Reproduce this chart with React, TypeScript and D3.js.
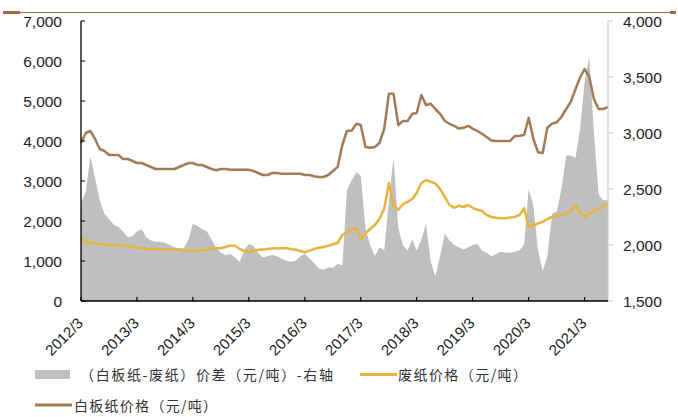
import React from 'react';
import * as d3 from 'd3';

// monthly observations, 2012/3 .. 2021/8
const months: Date[] = d3.timeMonth.range(new Date(2012, 2, 1), new Date(2021, 8, 1));

const tickLabels = ['2012/3', '2013/3', '2014/3', '2015/3', '2016/3', '2017/3', '2018/3', '2019/3', '2020/3', '2021/3'];
const leftTicks = [0, 1000, 2000, 3000, 4000, 5000, 6000, 7000];
const rightTicks = [1500, 2000, 2500, 3000, 3500, 4000];

// (白板纸-废纸)价差 (right axis)
const spread = [
  2380, 2470, 2790, 2600, 2400, 2280, 2230, 2180, 2160, 2120,
  2070, 2080, 2120, 2140, 2070, 2040, 2030, 2030, 2020, 2000,
  1980, 1970, 1970, 2050, 2190, 2170, 2140, 2120, 2050, 1970,
  1930, 1910, 1920, 1890, 1850, 1960, 2010, 1990, 1930, 1890,
  1900, 1910, 1900, 1880, 1860, 1850, 1860, 1900, 1920, 1880,
  1840, 1790, 1780, 1800, 1800, 1830, 1820, 2490, 2580, 2650,
  2620, 2150, 2000, 1900, 1980, 1950, 2400, 2780, 2150, 2000,
  1950, 2050, 1950, 2050, 2190, 1850, 1720, 1900, 2100, 2040,
  2000, 1980, 1960, 1980, 2000, 2010, 1950, 1930, 1900, 1920,
  1940, 1930, 1930, 1940, 1950, 2010, 2500, 2350, 1950, 1770,
  1900, 2280, 2300, 2500, 2800, 2800, 2780, 3050, 3450, 3680,
  3000, 2450, 2400, 2400,
];

// 废纸价格 (left axis)
const wastePaper = [
  1600, 1450, 1470, 1450, 1420, 1420, 1400, 1400, 1390, 1390,
  1380, 1360, 1340, 1320, 1300, 1300, 1290, 1290, 1290, 1300,
  1290, 1280, 1270, 1260, 1250, 1260, 1270, 1280, 1300, 1320,
  1320, 1350, 1390, 1380, 1300, 1250, 1230, 1250, 1280, 1290,
  1300, 1310, 1310, 1320, 1320, 1300, 1280, 1250, 1220, 1260,
  1300, 1330, 1350, 1380, 1420, 1450, 1650, 1720, 1780, 1820,
  1550, 1690, 1800, 1900, 2050, 2300, 2950, 2400, 2280, 2420,
  2480, 2550, 2700, 2950, 3020, 2980, 2940, 2800, 2600, 2400,
  2330, 2380, 2350, 2400, 2330, 2280, 2250, 2150, 2100, 2080,
  2070, 2070, 2090, 2100, 2150, 2320, 1850, 1880, 1940, 1980,
  2050, 2100, 2120, 2150, 2180, 2250, 2400, 2200, 2100, 2180,
  2250, 2300, 2380, 2420,
];

// 白板纸价格 (left axis)
const whiteboard = [
  3950, 4200, 4250, 4050, 3800, 3750, 3650, 3650, 3650, 3550,
  3550, 3500, 3450, 3450, 3400, 3350, 3300, 3300, 3300, 3300,
  3300, 3350, 3400, 3450, 3450, 3400, 3400, 3350, 3300, 3270,
  3300, 3300, 3280, 3280, 3280, 3280, 3280, 3250, 3200, 3150,
  3150, 3200, 3200, 3180, 3180, 3180, 3180, 3180, 3150, 3150,
  3120, 3100, 3100, 3150, 3250, 3350, 3900, 4250, 4260, 4430,
  4400, 3850, 3830, 3850, 3950, 4300, 5180, 5180, 4400, 4500,
  4500, 4680, 4700, 5150, 4900, 4930, 4800, 4680, 4500, 4430,
  4380, 4310, 4330, 4380, 4310, 4250, 4180, 4100, 4010, 4000,
  4000, 4000, 4000, 4120, 4130, 4150, 4580, 4050, 3720, 3700,
  4330, 4430, 4470, 4600, 4800, 4980, 5300, 5600, 5800, 5600,
  5050, 4800, 4800, 4850,
];

const legendSpread = '（白板纸-废纸）价差（元/吨）-右轴';
const legendWaste = '废纸价格（元/吨）';
const legendWhite = '白板纸价格（元/吨）';

const NUM_FONT = '"Liberation Sans", Arial, sans-serif';
const CJK_FONT = '"Noto Sans CJK SC", "Noto Sans", sans-serif';
const GRAY = '#bfbfbf';
const YELLOW = '#e8b441';
const BROWN = '#a27c56';

export default function App() {
  const W = 678;
  const H = 417;
  const left = 81;
  const right = 608;
  const top = 21;
  const bottom = 301;

  const x = d3.scaleTime().domain([months[0], months[months.length - 1]]).range([left, right]);
  const yL = d3.scaleLinear().domain([0, 7000]).range([bottom, top]);
  const yR = d3.scaleLinear().domain([1500, 4000]).range([bottom, top]);

  const area = d3
    .area<number>()
    .x((_, i) => x(months[i]))
    .y0(yR(1500))
    .y1((d) => yR(d));
  const line = d3
    .line<number>()
    .x((_, i) => x(months[i]))
    .y((d) => yL(d));

  const tickDates = tickLabels.map((t) => {
    const [yy, mm] = t.split('/').map(Number);
    return new Date(yy, mm - 1, 1);
  });

  return (
    <svg
      width={W}
      height={H}
      style={{ position: 'absolute', left: 0, top: 0, display: 'block', background: '#fff' }}
    >
      {/* header rule */}
      <line x1={3} x2={676} y1={12.5} y2={12.5} stroke="#a0693c" strokeWidth={1} />
      <rect x={3} y={11} width={17} height={3} fill="#a0693c" />
      <rect x={670} y={11} width={6} height={3} fill="#a0693c" />

      {/* spread area (right axis) */}
      <path d={area(spread) || ''} fill={GRAY} stroke="none" />

      {/* lines */}
      <path d={line(wastePaper) || ''} fill="none" stroke={YELLOW} strokeWidth={2.5} strokeLinejoin="round" />
      <path d={line(whiteboard) || ''} fill="none" stroke={BROWN} strokeWidth={2.5} strokeLinejoin="round" />

      {/* right axis */}
      <line x1={right} x2={right} y1={top} y2={bottom} stroke="#c8c8c8" strokeWidth={1} />
      {rightTicks.map((t) => (
        <g key={'r' + t}>
          <line x1={right} x2={right + 5} y1={yR(t)} y2={yR(t)} stroke="#c8c8c8" />
          <text
            x={623}
            y={yR(t)}
            dy="0.36em"
            fontFamily={NUM_FONT}
            fontSize={15.5}
            fill="#222"
          >
            {d3.format(',')(t)}
          </text>
        </g>
      ))}

      {/* left axis */}
      <line x1={left} x2={left} y1={top} y2={bottom} stroke="#000" strokeWidth={1.3} />
      {leftTicks.map((t) => (
        <g key={'l' + t}>
          <line x1={left} x2={left + 4} y1={yL(t)} y2={yL(t)} stroke="#000" />
          <text
            x={62}
            y={yL(t)}
            dy="0.36em"
            textAnchor="end"
            fontFamily={NUM_FONT}
            fontSize={15.5}
            fill="#222"
          >
            {d3.format(',')(t)}
          </text>
        </g>
      ))}

      {/* x axis */}
      <line x1={left} x2={right} y1={bottom} y2={bottom} stroke="#000" strokeWidth={1.5} />
      {tickDates.map((d, i) => (
        <g key={'x' + i}>
          <line x1={x(d)} x2={x(d)} y1={bottom} y2={bottom - 4} stroke="#000" strokeWidth={1.2} />
          <text
            transform={`translate(${x(d) + 3},${324}) rotate(-45)`}
            textAnchor="end"
            fontFamily={NUM_FONT}
            fontSize={15}
            fill="#222"
          >
            {tickLabels[i]}
          </text>
        </g>
      ))}

      {/* legend */}
      <rect x={35} y={370} width={35} height={9} fill={GRAY} />
      <text x={80} y={380} fontFamily={CJK_FONT} fontSize={14} fill="#333" textLength={253} lengthAdjust="spacing">
        {legendSpread}
      </text>
      <line x1={360} x2={397} y1={374.5} y2={374.5} stroke={YELLOW} strokeWidth={3} />
      <text x={398} y={380} fontFamily={CJK_FONT} fontSize={14} fill="#333" textLength={129} lengthAdjust="spacing">
        {legendWaste}
      </text>
      <line x1={35} x2={72} y1={405} y2={405} stroke={BROWN} strokeWidth={3} />
      <text x={74} y={410.5} fontFamily={CJK_FONT} fontSize={14} fill="#333" textLength={143} lengthAdjust="spacing">
        {legendWhite}
      </text>
    </svg>
  );
}
